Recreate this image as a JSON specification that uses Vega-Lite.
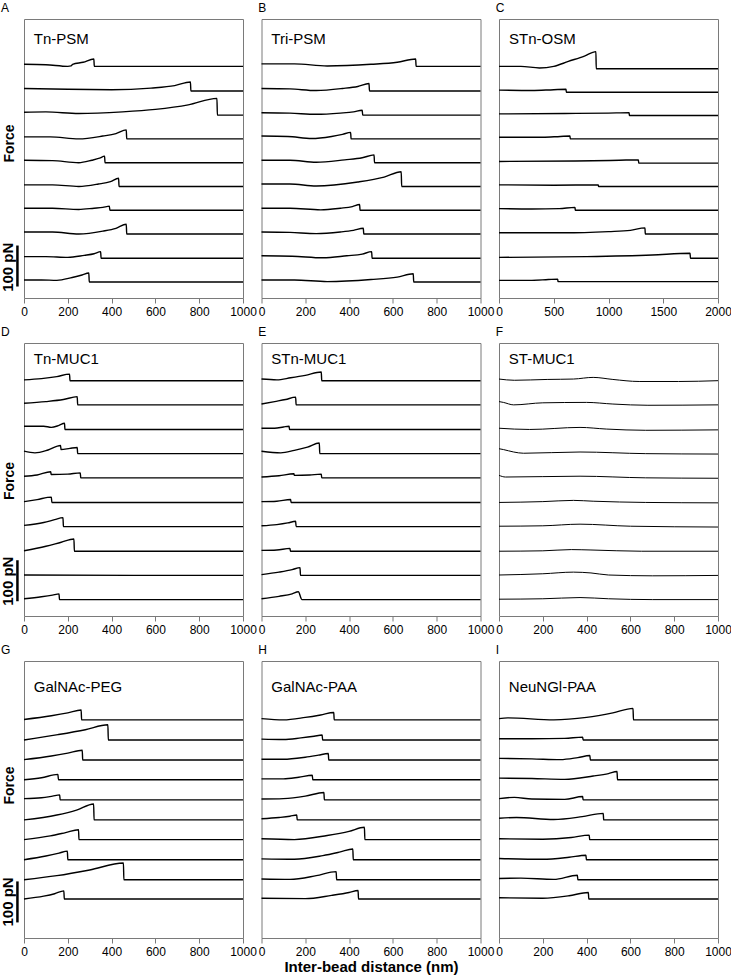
{
"$schema":"https://vega.github.io/schema/vega-lite/v6.json",
"background":"white",
"padding":{"left":0,"top":1,"right":0,"bottom":0},
"config":{"font":"Liberation Sans","view":{"stroke":"#7a7a7a","strokeWidth":1},
"axis":{"grid":false,"domain":false,"tickColor":"#7a7a7a","tickSize":5,"labelFontSize":12,"labelColor":"black","labelPadding":3,"titleColor":"black","labelFlush":false,"labelOverlap":false},
"title":{"anchor":"start","fontSize":12,"fontWeight":"normal","offset":4,"baseline":"alphabetic","color":"black"},
"line":{"color":"black","strokeWidth":1.4,"interpolate":"monotone"}},
"columns":3,"bounds":"flush","spacing":{"row":45,"column":18.5},
"concat":[
{"title":"A","width":219,"height":279,"layer":[
{"data":{"values":[
{"t":1,"x":0,"y":570},{"t":1,"x":100,"y":569},{"t":1,"x":200,"y":565},{"t":1,"x":215,"y":566},{"t":1,"x":222,"y":570},{"t":1,"x":270,"y":575},{"t":1,"x":319,"y":583},{"t":1,"x":321,"y":565},{"t":1,"x":1000,"y":565},
{"t":2,"x":0,"y":511},{"t":2,"x":200,"y":509},{"t":2,"x":400,"y":508},{"t":2,"x":580,"y":512},{"t":2,"x":688,"y":518},{"t":2,"x":760,"y":527},{"t":2,"x":762,"y":505},{"t":2,"x":1000,"y":505},
{"t":3,"x":0,"y":453},{"t":3,"x":100,"y":454},{"t":3,"x":250,"y":450},{"t":3,"x":450,"y":454},{"t":3,"x":600,"y":460},{"t":3,"x":750,"y":471},{"t":3,"x":881,"y":487},{"t":3,"x":883,"y":446},{"t":3,"x":1000,"y":446},
{"t":4,"x":0,"y":393},{"t":4,"x":120,"y":393},{"t":4,"x":250,"y":388},{"t":4,"x":360,"y":395},{"t":4,"x":420,"y":401},{"t":4,"x":467,"y":410},{"t":4,"x":469,"y":388},{"t":4,"x":1000,"y":388},
{"t":5,"x":0,"y":336},{"t":5,"x":130,"y":335},{"t":5,"x":250,"y":330},{"t":5,"x":310,"y":336},{"t":5,"x":345,"y":341},{"t":5,"x":368,"y":346},{"t":5,"x":370,"y":330},{"t":5,"x":1000,"y":330},
{"t":6,"x":0,"y":276},{"t":6,"x":130,"y":276},{"t":6,"x":250,"y":272},{"t":6,"x":340,"y":278},{"t":6,"x":395,"y":284},{"t":6,"x":432,"y":292},{"t":6,"x":434,"y":272},{"t":6,"x":1000,"y":272},
{"t":7,"x":0,"y":219},{"t":7,"x":130,"y":219},{"t":7,"x":250,"y":216},{"t":7,"x":320,"y":219},{"t":7,"x":360,"y":221},{"t":7,"x":390,"y":224},{"t":7,"x":392,"y":214},{"t":7,"x":1000,"y":214},
{"t":8,"x":0,"y":161},{"t":8,"x":130,"y":161},{"t":8,"x":250,"y":156},{"t":8,"x":360,"y":163},{"t":8,"x":420,"y":170},{"t":8,"x":467,"y":180},{"t":8,"x":469,"y":156},{"t":8,"x":1000,"y":156},
{"t":9,"x":0,"y":101},{"t":9,"x":100,"y":101},{"t":9,"x":200,"y":99},{"t":9,"x":275,"y":104},{"t":9,"x":320,"y":108},{"t":9,"x":350,"y":113},{"t":9,"x":352,"y":97},{"t":9,"x":1000,"y":97},
{"t":10,"x":0,"y":44},{"t":10,"x":80,"y":44},{"t":10,"x":150,"y":43},{"t":10,"x":220,"y":50},{"t":10,"x":265,"y":56},{"t":10,"x":296,"y":61},{"t":10,"x":298,"y":39},{"t":10,"x":1000,"y":39}
]},"mark":"line","encoding":{
"x":{"field":"x","type":"quantitative","scale":{"domain":[0,1000],"nice":false,"zero":false},"axis":{"values":[0,200,400,600,800,1000],"format":"d","title":null}},
"y":{"field":"y","type":"quantitative","scale":{"domain":[0,680.5],"nice":false,"zero":false},"axis":{"title":"Force","labels":false,"ticks":false,"titleFontSize":14,"titleFontWeight":"bold","titleX":-14.7,"titleY":124,"titleAngle":270,"titleAlign":"center","titleBaseline":"middle"}},
"detail":{"field":"t"}}},
{"data":{"values":[{"label":"Tn-PSM"}]},"mark":{"type":"text","align":"left","baseline":"alphabetic","fontSize":15},"encoding":{"x":{"datum":45,"type":"quantitative"},"y":{"datum":620,"type":"quantitative"},"text":{"field":"label"}}},
{"data":{"values":[{"s":"100 pN"}]},"mark":{"type":"rule","strokeWidth":2.5,"color":"black"},"encoding":{"x":{"datum":-30,"type":"quantitative"},"y":{"datum":28,"type":"quantitative"},"y2":{"datum":128}}},
{"data":{"values":[{"s":"100 pN"}]},"mark":{"type":"text","angle":270,"fontSize":15,"fontWeight":"bold","align":"center","baseline":"middle"},"encoding":{"x":{"datum":-73,"type":"quantitative"},"y":{"datum":75,"type":"quantitative"},"text":{"field":"s"}}}
]},
{"title":"B","width":219,"height":279,"layer":[
{"data":{"values":[
{"t":1,"x":0,"y":571},{"t":1,"x":150,"y":571},{"t":1,"x":300,"y":566},{"t":1,"x":500,"y":570},{"t":1,"x":620,"y":575},{"t":1,"x":704,"y":583},{"t":1,"x":706,"y":565},{"t":1,"x":1000,"y":565},
{"t":2,"x":0,"y":511},{"t":2,"x":130,"y":510},{"t":2,"x":250,"y":506},{"t":2,"x":370,"y":511},{"t":2,"x":440,"y":516},{"t":2,"x":491,"y":523},{"t":2,"x":493,"y":505},{"t":2,"x":1000,"y":505},
{"t":3,"x":0,"y":452},{"t":3,"x":130,"y":451},{"t":3,"x":250,"y":448},{"t":3,"x":360,"y":451},{"t":3,"x":420,"y":454},{"t":3,"x":460,"y":458},{"t":3,"x":462,"y":446},{"t":3,"x":1000,"y":446},
{"t":4,"x":0,"y":395},{"t":4,"x":120,"y":394},{"t":4,"x":230,"y":389},{"t":4,"x":320,"y":394},{"t":4,"x":370,"y":399},{"t":4,"x":407,"y":404},{"t":4,"x":409,"y":388},{"t":4,"x":1000,"y":388},
{"t":5,"x":0,"y":336},{"t":5,"x":130,"y":336},{"t":5,"x":250,"y":331},{"t":5,"x":380,"y":337},{"t":5,"x":460,"y":342},{"t":5,"x":514,"y":349},{"t":5,"x":516,"y":330},{"t":5,"x":1000,"y":330},
{"t":6,"x":0,"y":278},{"t":6,"x":130,"y":278},{"t":6,"x":250,"y":273},{"t":6,"x":440,"y":283},{"t":6,"x":560,"y":295},{"t":6,"x":638,"y":308},{"t":6,"x":640,"y":272},{"t":6,"x":1000,"y":272},
{"t":7,"x":0,"y":219},{"t":7,"x":130,"y":219},{"t":7,"x":270,"y":215},{"t":7,"x":360,"y":219},{"t":7,"x":415,"y":223},{"t":7,"x":448,"y":228},{"t":7,"x":450,"y":214},{"t":7,"x":1000,"y":214},
{"t":8,"x":0,"y":161},{"t":8,"x":130,"y":160},{"t":8,"x":250,"y":157},{"t":8,"x":360,"y":161},{"t":8,"x":420,"y":165},{"t":8,"x":465,"y":170},{"t":8,"x":467,"y":156},{"t":8,"x":1000,"y":156},
{"t":9,"x":0,"y":103},{"t":9,"x":140,"y":102},{"t":9,"x":280,"y":98},{"t":9,"x":390,"y":103},{"t":9,"x":460,"y":107},{"t":9,"x":503,"y":113},{"t":9,"x":505,"y":97},{"t":9,"x":1000,"y":97},
{"t":10,"x":0,"y":44},{"t":10,"x":150,"y":44},{"t":10,"x":300,"y":40},{"t":10,"x":500,"y":45},{"t":10,"x":620,"y":51},{"t":10,"x":693,"y":59},{"t":10,"x":695,"y":39},{"t":10,"x":1000,"y":39}
]},"mark":"line","encoding":{
"x":{"field":"x","type":"quantitative","scale":{"domain":[0,1000],"nice":false,"zero":false},"axis":{"values":[0,200,400,600,800,1000],"format":"d","title":null}},
"y":{"field":"y","type":"quantitative","scale":{"domain":[0,680.5],"nice":false,"zero":false},"axis":null},
"detail":{"field":"t"}}},
{"data":{"values":[{"label":"Tri-PSM"}]},"mark":{"type":"text","align":"left","baseline":"alphabetic","fontSize":15},"encoding":{"x":{"datum":45,"type":"quantitative"},"y":{"datum":620,"type":"quantitative"},"text":{"field":"label"}}}
]},
{"title":"C","width":219,"height":279,"layer":[
{"data":{"values":[
{"t":1,"x":0,"y":565},{"t":1,"x":200,"y":565},{"t":1,"x":370,"y":561},{"t":1,"x":500,"y":565},{"t":1,"x":633,"y":577},{"t":1,"x":780,"y":590},{"t":1,"x":885,"y":601},{"t":1,"x":888,"y":559},{"t":1,"x":2000,"y":559},
{"t":2,"x":0,"y":507},{"t":2,"x":300,"y":506},{"t":2,"x":500,"y":508},{"t":2,"x":612,"y":509},{"t":2,"x":615,"y":502},{"t":2,"x":2000,"y":502},
{"t":3,"x":0,"y":449},{"t":3,"x":600,"y":450},{"t":3,"x":1000,"y":451},{"t":3,"x":1188,"y":452},{"t":3,"x":1191,"y":445},{"t":3,"x":2000,"y":445},
{"t":4,"x":0,"y":392},{"t":4,"x":400,"y":392},{"t":4,"x":560,"y":394},{"t":4,"x":648,"y":395},{"t":4,"x":651,"y":388},{"t":4,"x":2000,"y":388},
{"t":5,"x":0,"y":333},{"t":5,"x":700,"y":334},{"t":5,"x":1100,"y":336},{"t":5,"x":1273,"y":337},{"t":5,"x":1276,"y":329},{"t":5,"x":2000,"y":329},
{"t":6,"x":0,"y":276},{"t":6,"x":500,"y":275},{"t":6,"x":906,"y":276},{"t":6,"x":909,"y":272},{"t":6,"x":2000,"y":272},
{"t":7,"x":0,"y":218},{"t":7,"x":300,"y":217},{"t":7,"x":550,"y":218},{"t":7,"x":694,"y":221},{"t":7,"x":697,"y":214},{"t":7,"x":2000,"y":214},
{"t":8,"x":0,"y":159},{"t":8,"x":600,"y":159},{"t":8,"x":1000,"y":162},{"t":8,"x":1200,"y":165},{"t":8,"x":1333,"y":171},{"t":8,"x":1336,"y":156},{"t":8,"x":2000,"y":156},
{"t":9,"x":0,"y":99},{"t":9,"x":800,"y":101},{"t":9,"x":1400,"y":105},{"t":9,"x":1745,"y":109},{"t":9,"x":1748,"y":97},{"t":9,"x":2000,"y":97},
{"t":10,"x":0,"y":43},{"t":10,"x":300,"y":43},{"t":10,"x":450,"y":45},{"t":10,"x":536,"y":46},{"t":10,"x":539,"y":40},{"t":10,"x":2000,"y":40}
]},"mark":"line","encoding":{
"x":{"field":"x","type":"quantitative","scale":{"domain":[0,2000],"nice":false,"zero":false},"axis":{"values":[0,500,1000,1500,2000],"format":"d","title":null}},
"y":{"field":"y","type":"quantitative","scale":{"domain":[0,680.5],"nice":false,"zero":false},"axis":null},
"detail":{"field":"t"}}},
{"data":{"values":[{"label":"STn-OSM"}]},"mark":{"type":"text","align":"left","baseline":"alphabetic","fontSize":15},"encoding":{"x":{"datum":91,"type":"quantitative"},"y":{"datum":620,"type":"quantitative"},"text":{"field":"label"}}}
]},
{"title":"D","width":219,"height":273,"layer":[
{"data":{"values":[
{"t":1,"x":0,"y":576},{"t":1,"x":80,"y":579},{"t":1,"x":150,"y":584},{"t":1,"x":208,"y":590},{"t":1,"x":210,"y":574},{"t":1,"x":1000,"y":574},
{"t":2,"x":0,"y":519},{"t":2,"x":100,"y":523},{"t":2,"x":180,"y":528},{"t":2,"x":243,"y":535},{"t":2,"x":245,"y":515},{"t":2,"x":1000,"y":515},
{"t":3,"x":0,"y":463},{"t":3,"x":90,"y":463},{"t":3,"x":125,"y":460},{"t":3,"x":160,"y":465},{"t":3,"x":185,"y":470},{"t":3,"x":187,"y":455},{"t":3,"x":1000,"y":455},
{"t":4,"x":0,"y":402},{"t":4,"x":50,"y":398},{"t":4,"x":110,"y":405},{"t":4,"x":167,"y":416},{"t":4,"x":169,"y":406},{"t":4,"x":210,"y":409},{"t":4,"x":243,"y":411},{"t":4,"x":245,"y":396},{"t":4,"x":1000,"y":396},
{"t":5,"x":0,"y":341},{"t":5,"x":60,"y":344},{"t":5,"x":122,"y":352},{"t":5,"x":124,"y":345},{"t":5,"x":200,"y":346},{"t":5,"x":257,"y":349},{"t":5,"x":259,"y":337},{"t":5,"x":1000,"y":337},
{"t":6,"x":0,"y":279},{"t":6,"x":60,"y":284},{"t":6,"x":125,"y":290},{"t":6,"x":127,"y":277},{"t":6,"x":1000,"y":277},
{"t":7,"x":0,"y":221},{"t":7,"x":90,"y":228},{"t":7,"x":140,"y":235},{"t":7,"x":178,"y":240},{"t":7,"x":180,"y":218},{"t":7,"x":1000,"y":218},
{"t":8,"x":0,"y":159},{"t":8,"x":100,"y":170},{"t":8,"x":170,"y":180},{"t":8,"x":228,"y":188},{"t":8,"x":230,"y":158},{"t":8,"x":1000,"y":158},
{"t":9,"x":0,"y":100},{"t":9,"x":500,"y":99},{"t":9,"x":1000,"y":99},
{"t":10,"x":0,"y":42},{"t":10,"x":80,"y":47},{"t":10,"x":130,"y":51},{"t":10,"x":160,"y":54},{"t":10,"x":162,"y":40},{"t":10,"x":1000,"y":40}
]},"mark":"line","encoding":{
"x":{"field":"x","type":"quantitative","scale":{"domain":[0,1000],"nice":false,"zero":false},"axis":{"values":[0,200,400,600,800,1000],"format":"d","title":null}},
"y":{"field":"y","type":"quantitative","scale":{"domain":[0,665.9],"nice":false,"zero":false},"axis":{"title":"Force","labels":false,"ticks":false,"titleFontSize":14,"titleFontWeight":"bold","titleX":-14.7,"titleY":137.5,"titleAngle":270,"titleAlign":"center","titleBaseline":"middle"}},
"detail":{"field":"t"}}},
{"data":{"values":[{"label":"Tn-MUC1"}]},"mark":{"type":"text","align":"left","baseline":"alphabetic","fontSize":15},"encoding":{"x":{"datum":45,"type":"quantitative"},"y":{"datum":615,"type":"quantitative"},"text":{"field":"label"}}},
{"data":{"values":[{"s":"100 pN"}]},"mark":{"type":"rule","strokeWidth":2.5,"color":"black"},"encoding":{"x":{"datum":-30,"type":"quantitative"},"y":{"datum":36,"type":"quantitative"},"y2":{"datum":136}}},
{"data":{"values":[{"s":"100 pN"}]},"mark":{"type":"text","angle":270,"fontSize":15,"fontWeight":"bold","align":"center","baseline":"middle"},"encoding":{"x":{"datum":-73,"type":"quantitative"},"y":{"datum":85,"type":"quantitative"},"text":{"field":"s"}}}
]},
{"title":"E","width":219,"height":273,"layer":[
{"data":{"values":[
{"t":1,"x":0,"y":578},{"t":1,"x":70,"y":576},{"t":1,"x":133,"y":581},{"t":1,"x":200,"y":587},{"t":1,"x":273,"y":595},{"t":1,"x":275,"y":574},{"t":1,"x":1000,"y":574},
{"t":2,"x":0,"y":517},{"t":2,"x":60,"y":523},{"t":2,"x":110,"y":528},{"t":2,"x":156,"y":534},{"t":2,"x":158,"y":515},{"t":2,"x":1000,"y":515},
{"t":3,"x":0,"y":458},{"t":3,"x":60,"y":458},{"t":3,"x":100,"y":461},{"t":3,"x":126,"y":463},{"t":3,"x":128,"y":455},{"t":3,"x":1000,"y":455},
{"t":4,"x":0,"y":402},{"t":4,"x":88,"y":398},{"t":4,"x":150,"y":404},{"t":4,"x":210,"y":412},{"t":4,"x":264,"y":422},{"t":4,"x":266,"y":396},{"t":4,"x":1000,"y":396},
{"t":5,"x":0,"y":339},{"t":5,"x":80,"y":342},{"t":5,"x":148,"y":347},{"t":5,"x":150,"y":343},{"t":5,"x":220,"y":344},{"t":5,"x":273,"y":346},{"t":5,"x":275,"y":337},{"t":5,"x":1000,"y":337},
{"t":6,"x":0,"y":279},{"t":6,"x":70,"y":280},{"t":6,"x":133,"y":284},{"t":6,"x":135,"y":277},{"t":6,"x":1000,"y":277},
{"t":7,"x":0,"y":220},{"t":7,"x":70,"y":223},{"t":7,"x":120,"y":227},{"t":7,"x":156,"y":231},{"t":7,"x":158,"y":218},{"t":7,"x":1000,"y":218},
{"t":8,"x":0,"y":160},{"t":8,"x":70,"y":161},{"t":8,"x":130,"y":165},{"t":8,"x":132,"y":158},{"t":8,"x":1000,"y":158},
{"t":9,"x":0,"y":101},{"t":9,"x":80,"y":107},{"t":9,"x":140,"y":113},{"t":9,"x":176,"y":118},{"t":9,"x":178,"y":99},{"t":9,"x":1000,"y":99},
{"t":10,"x":0,"y":42},{"t":10,"x":80,"y":48},{"t":10,"x":140,"y":54},{"t":10,"x":168,"y":59},{"t":10,"x":185,"y":40},{"t":10,"x":1000,"y":40}
]},"mark":"line","encoding":{
"x":{"field":"x","type":"quantitative","scale":{"domain":[0,1000],"nice":false,"zero":false},"axis":{"values":[0,200,400,600,800,1000],"format":"d","title":null}},
"y":{"field":"y","type":"quantitative","scale":{"domain":[0,665.9],"nice":false,"zero":false},"axis":null},
"detail":{"field":"t"}}},
{"data":{"values":[{"label":"STn-MUC1"}]},"mark":{"type":"text","align":"left","baseline":"alphabetic","fontSize":15},"encoding":{"x":{"datum":45,"type":"quantitative"},"y":{"datum":615,"type":"quantitative"},"text":{"field":"label"}}}
]},
{"title":"F","width":219,"height":273,"layer":[
{"data":{"values":[
{"t":1,"x":0,"y":578},{"t":1,"x":70,"y":575},{"t":1,"x":220,"y":577},{"t":1,"x":340,"y":578},{"t":1,"x":430,"y":582},{"t":1,"x":520,"y":577},{"t":1,"x":640,"y":572},{"t":1,"x":820,"y":572},{"t":1,"x":1000,"y":574},
{"t":2,"x":0,"y":523},{"t":2,"x":20,"y":521},{"t":2,"x":67,"y":515},{"t":2,"x":200,"y":520},{"t":2,"x":400,"y":521},{"t":2,"x":520,"y":517},{"t":2,"x":680,"y":514},{"t":2,"x":1000,"y":515},
{"t":3,"x":0,"y":458},{"t":3,"x":140,"y":455},{"t":3,"x":370,"y":460},{"t":3,"x":490,"y":456},{"t":3,"x":670,"y":453},{"t":3,"x":1000,"y":454},
{"t":4,"x":0,"y":408},{"t":4,"x":20,"y":406},{"t":4,"x":67,"y":400},{"t":4,"x":112,"y":397},{"t":4,"x":370,"y":400},{"t":4,"x":670,"y":396},{"t":4,"x":1000,"y":395},
{"t":5,"x":0,"y":343},{"t":5,"x":30,"y":339},{"t":5,"x":370,"y":341},{"t":5,"x":670,"y":337},{"t":5,"x":1000,"y":336},
{"t":6,"x":0,"y":277},{"t":6,"x":200,"y":279},{"t":6,"x":340,"y":282},{"t":6,"x":430,"y":280},{"t":6,"x":670,"y":277},{"t":6,"x":1000,"y":276},
{"t":7,"x":0,"y":219},{"t":7,"x":200,"y":220},{"t":7,"x":370,"y":224},{"t":7,"x":600,"y":219},{"t":7,"x":1000,"y":217},
{"t":8,"x":0,"y":158},{"t":8,"x":200,"y":159},{"t":8,"x":330,"y":162},{"t":8,"x":420,"y":161},{"t":8,"x":650,"y":158},{"t":8,"x":1000,"y":158},
{"t":9,"x":0,"y":100},{"t":9,"x":200,"y":103},{"t":9,"x":340,"y":107},{"t":9,"x":420,"y":105},{"t":9,"x":500,"y":100},{"t":9,"x":700,"y":98},{"t":9,"x":1000,"y":99},
{"t":10,"x":0,"y":41},{"t":10,"x":200,"y":42},{"t":10,"x":370,"y":45},{"t":10,"x":500,"y":42},{"t":10,"x":700,"y":40},{"t":10,"x":1000,"y":40}
]},"mark":{"type":"line","strokeWidth":1},"encoding":{
"x":{"field":"x","type":"quantitative","scale":{"domain":[0,1000],"nice":false,"zero":false},"axis":{"values":[0,200,400,600,800,1000],"format":"d","title":null}},
"y":{"field":"y","type":"quantitative","scale":{"domain":[0,665.9],"nice":false,"zero":false},"axis":null},
"detail":{"field":"t"}}},
{"data":{"values":[{"label":"ST-MUC1"}]},"mark":{"type":"text","align":"left","baseline":"alphabetic","fontSize":15},"encoding":{"x":{"datum":45,"type":"quantitative"},"y":{"datum":615,"type":"quantitative"},"text":{"field":"label"}}}
]},
{"title":"G","width":219,"height":277,"layer":[
{"data":{"values":[
{"t":1,"x":0,"y":533},{"t":1,"x":125,"y":542},{"t":1,"x":200,"y":549},{"t":1,"x":261,"y":556},{"t":1,"x":263,"y":532},{"t":1,"x":1000,"y":532},
{"t":2,"x":0,"y":483},{"t":2,"x":155,"y":496},{"t":2,"x":280,"y":508},{"t":2,"x":383,"y":520},{"t":2,"x":385,"y":483},{"t":2,"x":1000,"y":483},
{"t":3,"x":0,"y":435},{"t":3,"x":125,"y":444},{"t":3,"x":200,"y":451},{"t":3,"x":266,"y":458},{"t":3,"x":268,"y":434},{"t":3,"x":1000,"y":434},
{"t":4,"x":0,"y":386},{"t":4,"x":80,"y":391},{"t":4,"x":155,"y":399},{"t":4,"x":157,"y":386},{"t":4,"x":1000,"y":386},
{"t":5,"x":0,"y":340},{"t":5,"x":80,"y":342},{"t":5,"x":130,"y":346},{"t":5,"x":163,"y":349},{"t":5,"x":165,"y":337},{"t":5,"x":1000,"y":337},
{"t":6,"x":0,"y":288},{"t":6,"x":150,"y":300},{"t":6,"x":240,"y":312},{"t":6,"x":318,"y":327},{"t":6,"x":320,"y":288},{"t":6,"x":1000,"y":288},
{"t":7,"x":0,"y":240},{"t":7,"x":120,"y":249},{"t":7,"x":190,"y":257},{"t":7,"x":249,"y":264},{"t":7,"x":251,"y":240},{"t":7,"x":1000,"y":240},
{"t":8,"x":0,"y":191},{"t":8,"x":100,"y":200},{"t":8,"x":160,"y":207},{"t":8,"x":198,"y":212},{"t":8,"x":200,"y":191},{"t":8,"x":1000,"y":191},
{"t":9,"x":0,"y":142},{"t":9,"x":150,"y":152},{"t":9,"x":300,"y":166},{"t":9,"x":454,"y":183},{"t":9,"x":456,"y":142},{"t":9,"x":1000,"y":142},
{"t":10,"x":0,"y":95},{"t":10,"x":90,"y":102},{"t":10,"x":140,"y":108},{"t":10,"x":182,"y":115},{"t":10,"x":184,"y":95},{"t":10,"x":1000,"y":95}
]},"mark":"line","encoding":{
"x":{"field":"x","type":"quantitative","scale":{"domain":[0,1000],"nice":false,"zero":false},"axis":{"values":[0,200,400,600,800,1000],"format":"d","title":null}},
"y":{"field":"y","type":"quantitative","scale":{"domain":[0,675.6],"nice":false,"zero":false},"axis":{"title":"Force","labels":false,"ticks":false,"titleFontSize":14,"titleFontWeight":"bold","titleX":-14.7,"titleY":124,"titleAngle":270,"titleAlign":"center","titleBaseline":"middle"}},
"detail":{"field":"t"}}},
{"data":{"values":[{"label":"GalNAc-PEG"}]},"mark":{"type":"text","align":"left","baseline":"alphabetic","fontSize":15},"encoding":{"x":{"datum":45,"type":"quantitative"},"y":{"datum":600,"type":"quantitative"},"text":{"field":"label"}}},
{"data":{"values":[{"s":"100 pN"}]},"mark":{"type":"rule","strokeWidth":2.5,"color":"black"},"encoding":{"x":{"datum":-30,"type":"quantitative"},"y":{"datum":38,"type":"quantitative"},"y2":{"datum":138}}},
{"data":{"values":[{"s":"100 pN"}]},"mark":{"type":"text","angle":270,"fontSize":15,"fontWeight":"bold","align":"center","baseline":"middle"},"encoding":{"x":{"datum":-73,"type":"quantitative"},"y":{"datum":88,"type":"quantitative"},"text":{"field":"s"}}}
]},
{"title":"H","width":219,"height":277,"layer":[
{"data":{"values":[
{"t":1,"x":0,"y":535},{"t":1,"x":100,"y":532},{"t":1,"x":200,"y":538},{"t":1,"x":270,"y":544},{"t":1,"x":330,"y":550},{"t":1,"x":332,"y":532},{"t":1,"x":1000,"y":532},
{"t":2,"x":0,"y":485},{"t":2,"x":100,"y":484},{"t":2,"x":180,"y":488},{"t":2,"x":240,"y":492},{"t":2,"x":277,"y":495},{"t":2,"x":279,"y":483},{"t":2,"x":1000,"y":483},
{"t":3,"x":0,"y":436},{"t":3,"x":100,"y":436},{"t":3,"x":200,"y":441},{"t":3,"x":260,"y":446},{"t":3,"x":305,"y":450},{"t":3,"x":307,"y":434},{"t":3,"x":1000,"y":434},
{"t":4,"x":0,"y":388},{"t":4,"x":100,"y":388},{"t":4,"x":170,"y":392},{"t":4,"x":232,"y":397},{"t":4,"x":234,"y":386},{"t":4,"x":1000,"y":386},
{"t":5,"x":0,"y":339},{"t":5,"x":100,"y":340},{"t":5,"x":200,"y":346},{"t":5,"x":285,"y":355},{"t":5,"x":287,"y":337},{"t":5,"x":1000,"y":337},
{"t":6,"x":0,"y":291},{"t":6,"x":80,"y":294},{"t":6,"x":130,"y":297},{"t":6,"x":161,"y":300},{"t":6,"x":163,"y":288},{"t":6,"x":1000,"y":288},
{"t":7,"x":0,"y":242},{"t":7,"x":150,"y":240},{"t":7,"x":300,"y":250},{"t":7,"x":400,"y":260},{"t":7,"x":470,"y":270},{"t":7,"x":472,"y":240},{"t":7,"x":1000,"y":240},
{"t":8,"x":0,"y":193},{"t":8,"x":150,"y":192},{"t":8,"x":280,"y":201},{"t":8,"x":360,"y":210},{"t":8,"x":417,"y":217},{"t":8,"x":419,"y":191},{"t":8,"x":1000,"y":191},
{"t":9,"x":0,"y":144},{"t":9,"x":130,"y":143},{"t":9,"x":250,"y":152},{"t":9,"x":341,"y":162},{"t":9,"x":343,"y":142},{"t":9,"x":1000,"y":142},
{"t":10,"x":0,"y":97},{"t":10,"x":200,"y":96},{"t":10,"x":320,"y":104},{"t":10,"x":400,"y":111},{"t":10,"x":441,"y":116},{"t":10,"x":443,"y":95},{"t":10,"x":1000,"y":95}
]},"mark":"line","encoding":{
"x":{"field":"x","type":"quantitative","scale":{"domain":[0,1000],"nice":false,"zero":false},"axis":{"values":[0,200,400,600,800,1000],"format":"d","title":"Inter-bead distance (nm)","titleFontSize":15,"titleFontWeight":"bold","titlePadding":2}},
"y":{"field":"y","type":"quantitative","scale":{"domain":[0,675.6],"nice":false,"zero":false},"axis":null},
"detail":{"field":"t"}}},
{"data":{"values":[{"label":"GalNAc-PAA"}]},"mark":{"type":"text","align":"left","baseline":"alphabetic","fontSize":15},"encoding":{"x":{"datum":45,"type":"quantitative"},"y":{"datum":600,"type":"quantitative"},"text":{"field":"label"}}}
]},
{"title":"I","width":219,"height":277,"layer":[
{"data":{"values":[
{"t":1,"x":0,"y":535},{"t":1,"x":40,"y":537},{"t":1,"x":250,"y":532},{"t":1,"x":400,"y":538},{"t":1,"x":520,"y":549},{"t":1,"x":612,"y":560},{"t":1,"x":614,"y":532},{"t":1,"x":1000,"y":532},
{"t":2,"x":0,"y":486},{"t":2,"x":150,"y":486},{"t":2,"x":300,"y":487},{"t":2,"x":382,"y":490},{"t":2,"x":384,"y":483},{"t":2,"x":1000,"y":483},
{"t":3,"x":0,"y":438},{"t":3,"x":150,"y":437},{"t":3,"x":280,"y":435},{"t":3,"x":360,"y":440},{"t":3,"x":415,"y":445},{"t":3,"x":417,"y":434},{"t":3,"x":1000,"y":434},
{"t":4,"x":0,"y":390},{"t":4,"x":150,"y":389},{"t":4,"x":300,"y":387},{"t":4,"x":430,"y":395},{"t":4,"x":500,"y":401},{"t":4,"x":539,"y":406},{"t":4,"x":541,"y":386},{"t":4,"x":1000,"y":386},
{"t":5,"x":0,"y":340},{"t":5,"x":70,"y":343},{"t":5,"x":150,"y":339},{"t":5,"x":300,"y":338},{"t":5,"x":382,"y":345},{"t":5,"x":384,"y":337},{"t":5,"x":1000,"y":337},
{"t":6,"x":0,"y":292},{"t":6,"x":80,"y":294},{"t":6,"x":250,"y":289},{"t":6,"x":380,"y":296},{"t":6,"x":476,"y":304},{"t":6,"x":478,"y":288},{"t":6,"x":1000,"y":288},
{"t":7,"x":0,"y":242},{"t":7,"x":200,"y":241},{"t":7,"x":330,"y":245},{"t":7,"x":412,"y":251},{"t":7,"x":414,"y":240},{"t":7,"x":1000,"y":240},
{"t":8,"x":0,"y":194},{"t":8,"x":200,"y":192},{"t":8,"x":320,"y":197},{"t":8,"x":397,"y":202},{"t":8,"x":399,"y":191},{"t":8,"x":1000,"y":191},
{"t":9,"x":0,"y":145},{"t":9,"x":100,"y":146},{"t":9,"x":250,"y":143},{"t":9,"x":358,"y":153},{"t":9,"x":360,"y":142},{"t":9,"x":1000,"y":142},
{"t":10,"x":0,"y":98},{"t":10,"x":200,"y":97},{"t":10,"x":320,"y":103},{"t":10,"x":408,"y":111},{"t":10,"x":410,"y":95},{"t":10,"x":1000,"y":95}
]},"mark":"line","encoding":{
"x":{"field":"x","type":"quantitative","scale":{"domain":[0,1000],"nice":false,"zero":false},"axis":{"values":[0,200,400,600,800,1000],"format":"d","title":null}},
"y":{"field":"y","type":"quantitative","scale":{"domain":[0,675.6],"nice":false,"zero":false},"axis":null},
"detail":{"field":"t"}}},
{"data":{"values":[{"label":"NeuNGl-PAA"}]},"mark":{"type":"text","align":"left","baseline":"alphabetic","fontSize":15},"encoding":{"x":{"datum":45,"type":"quantitative"},"y":{"datum":600,"type":"quantitative"},"text":{"field":"label"}}}
]}
]
}
